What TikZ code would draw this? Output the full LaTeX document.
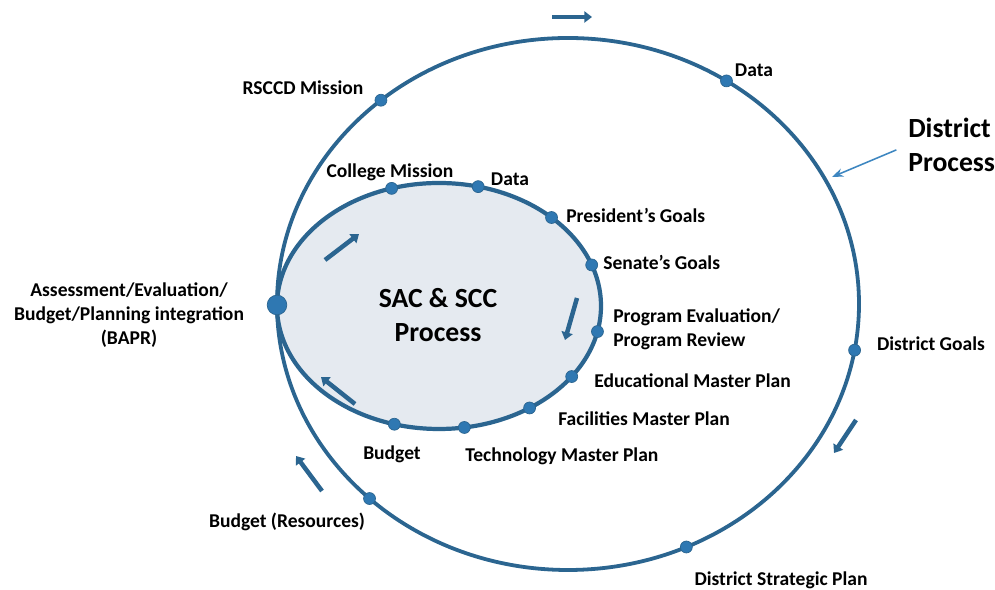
\documentclass[tikz,border=0pt]{standalone}
\usepackage{fontspec}
\setmainfont{Carlito}
\usetikzlibrary{arrows.meta}

\definecolor{ringblue}{HTML}{2B6590}
\definecolor{dotblue}{HTML}{2F78B2}
\definecolor{innerfill}{HTML}{E5EAF0}
\definecolor{pointblue}{HTML}{3D86C0}

\begin{document}
\begin{tikzpicture}[x=0.025cm,y=0.025cm,
    ring/.style={draw=ringblue,line width=2.7pt},
    stagedot/.style={circle,fill=dotblue,draw=ringblue,line width=0.5pt,inner sep=0pt,minimum size=8.5pt},
    flow/.style={ringblue,line width=3.2pt,-{Triangle[length=5.5pt,width=8pt]}},
    pointer/.style={pointblue,line width=1.1pt,-{Stealth[length=8pt,width=6pt]}},
    lbl/.style={font=\fontsize{13.9}{17}\selectfont\bfseries,inner sep=0pt},
    biglbl/.style={font=\fontsize{19.7}{24.2}\selectfont\bfseries,inner sep=0pt}]
  \useasboundingbox (0,0) rectangle (995,590);

  % district ring and college ring
  \coordinate (outer) at (568,286);
  \coordinate (inner) at (439,284);
  \draw[ring] (outer) ellipse (291 and 266);
  \draw[ring,line width=3pt,fill=innerfill] (inner) ellipse (162 and 123);

  % stages on the rings
  \foreach \ang/\nm in {130/rsccd,57/ddata,-10/dgoals,-66/dplan,227/dres}
    \node[stagedot] (\nm) at ([shift={(outer)}] \ang:291 and 266) {};
  \foreach \ang/\nm in {107/cmission,76/cdata,46/pres,19.5/senate,-12/progrev,-35/edplan,-56/facplan,-81/techplan,-106/cbudget}
    \node[stagedot] (\nm) at ([shift={(inner)}] \ang:162 and 123) {};
  \node[stagedot,minimum size=14pt] (bapr) at (277,285) {};

  % labels
  \node[lbl] (rsccdtxt) at (303,502) {RSCCD Mission};
  \node[lbl] (ddatatxt) at (754,520) {Data};
  \node[lbl] (dgoalstxt) at (931,246) {District Goals};
  \node[lbl] (dplantxt) at (781,10) {District Strategic Plan};
  \node[lbl] (drestxt) at (287,68) {Budget (Resources)};
  \node[lbl,align=center] (baprtxt) at (129,275) {Assessment/Evaluation/\\Budget/Planning integration\\(BAPR)};
  \node[lbl] (cmissiontxt) at (390,418) {College Mission};
  \node[lbl] (cdatatxt) at (510,411) {Data};
  \node[lbl,anchor=west] (prestxt) at (566,375) {President’s Goals};
  \node[lbl,anchor=west] (senatetxt) at (603,328) {Senate’s Goals};
  \node[lbl,anchor=west,align=left] (progrevtxt) at (613,261) {Program Evaluation/\\Program Review};
  \node[lbl,anchor=west] (edplantxt) at (594,209) {Educational Master Plan};
  \node[lbl,anchor=west] (facplantxt) at (558,171) {Facilities Master Plan};
  \node[lbl,anchor=west] (techplantxt) at (465,134) {Technology Master Plan};
  \node[lbl] (cbudgettxt) at (392,136) {Budget};
  \node[biglbl,align=center] (sac) at (438,275) {SAC \& SCC\\Process};
  \node[biglbl,anchor=west,align=left] (dproc) at (908,445) {District\\Process};

  % direction of the cycles
  \draw[flow] (552,573) -- (592,573);
  \draw[flow] (856,170) -- (834,137);
  \draw[flow] (322,99) -- (296,134);
  \draw[flow] (325,330) -- (359,356);
  \draw[flow] (577,292) -- (565,250);
  \draw[flow] (355,186) -- (321,213);

  \coordinate (dtip) at (832,413);
  \draw[pointer,shorten <=9pt] (dproc.west) -- (dtip);
\end{tikzpicture}
\end{document}
